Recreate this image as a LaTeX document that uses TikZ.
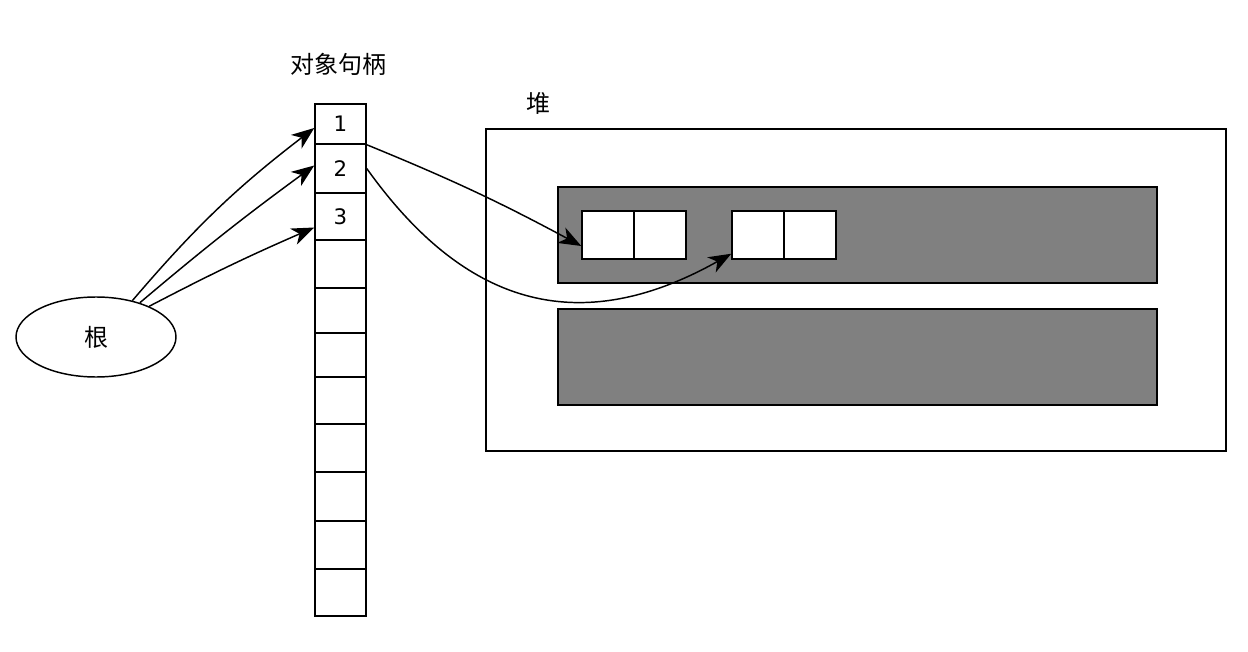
\documentclass[tikz,border=0pt]{standalone}
\usepackage{fontspec}
\setmainfont{DejaVu Sans}
\newfontfamily\cjk{Noto Sans CJK SC}
\usetikzlibrary{arrows.meta,calc,shapes.geometric}
\begin{document}
\begin{tikzpicture}[x=0.75pt,y=-0.75pt,
  line width=1.1pt,
  cell/.style={draw,fill=white,inner sep=0pt,minimum width=38.25pt,font=\fontsize{16}{16}\selectfont},
  obj/.style={draw,fill=white,inner sep=0pt,minimum width=39pt,minimum height=36pt},
  region/.style={draw,fill=black!50,inner sep=0pt,minimum width=449.25pt,minimum height=72pt},
  lbl/.style={font=\cjk\fontsize{18}{18}\selectfont,inner sep=0pt},
  arr/.style={-{Stealth[length=17pt,width=13pt,inset=5pt]}}]
\useasboundingbox (0,0) rectangle (1248,652);
% title labels
\node[lbl] (t1) at (338,64) {对象句柄};
\node[lbl] (t2) at (538,103) {堆};
% root
\node[draw,ellipse,fill=white,minimum width=120pt,minimum height=60pt,inner sep=0pt,font=\cjk\fontsize{18}{18}\selectfont] (root) at (96,337) {根};
% handle column
\node[cell,minimum height=30pt,text depth=-4pt] (c1) at (340.5,124) {1};
\node[cell,minimum height=36.75pt] (c2) at (340.5,168.5) {2};
\node[cell,minimum height=35.25pt] (c3) at (340.5,216.5) {3};
\foreach \i/\t/\b in {4/240/288,5/288/333,6/333/377,7/377/424,8/424/472,9/472/521,10/521/569,11/569/616}
  \node[cell,minimum height={(\b-\t)*0.75pt}] (c\i) at (340.5,{(\t+\b)/2}) {};
% heap
\node[draw,inner sep=0pt,minimum width=555pt,minimum height=241.5pt] (heap) at (856,290) {};
\node[region] (r1) at (857.5,235) {};
\node[region] (r2) at (857.5,357) {};
\node[obj] (a1) at (608,235) {};
\node[obj] (a2) at (660,235) {};
\node[obj] (b1) at (758,235) {};
\node[obj] (b2) at (810,235) {};
% arrows from root
\draw[arr] (root.45) to[bend left=6] ($(c1.west)+(0,4)$);
\draw[arr] (root.38) to[bend left=2] ($(c2.west)+(0,-3)$);
\draw[arr] (root.30) to[bend left=2] ($(c3.west)+(0,11)$);
% arrows from handles
\draw[arr] (c1.south east) to[bend left=3] ($(a1.west)+(0,11)$);
\draw[arr] (c2.east) .. controls (450,285) and (560,350) .. ($(b1.south west)+(0,-6)$);
\end{tikzpicture}
\end{document}
